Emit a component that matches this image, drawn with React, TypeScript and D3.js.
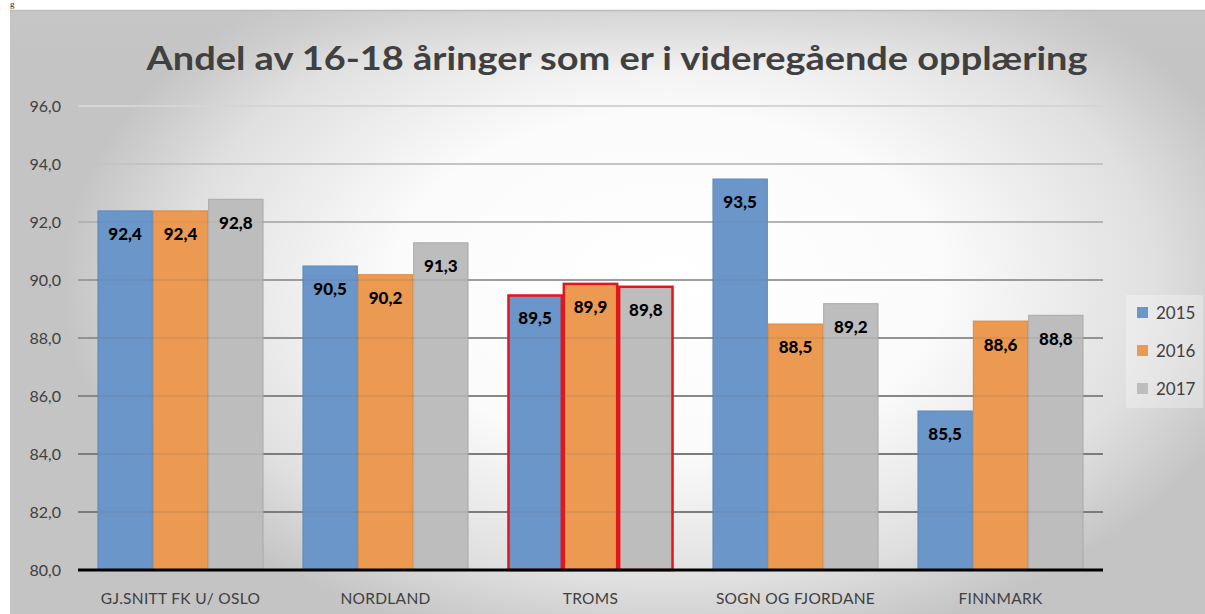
import React from "react";
import * as d3 from "d3";

const categories = ["GJ.SNITT FK U/ OSLO", "NORDLAND", "TROMS", "SOGN OG FJORDANE", "FINNMARK"];
const seriesNames = ["2015", "2016", "2017"];
const values2015 = [92.4, 90.5, 89.5, 93.5, 85.5];
const values2016 = [92.4, 90.2, 89.9, 88.5, 88.6];
const values2017 = [92.8, 91.3, 89.8, 89.2, 88.8];
const yTicks = [80, 82, 84, 86, 88, 90, 92, 94, 96];
const highlighted = ["TROMS"];
const title = "Andel av 16-18 åringer som er i videregående opplæring";

const colors = ["#6b96c9", "#ec9a52", "#bdbdbd"];
const strokes = ["#5d87ba", "#d98a44", "#a9a9a9"];

const W = 1205, H = 614;
const plotL = 78, plotR = 1103, plotT = 106, plotB = 570;
const font = "Lato, 'Open Sans', sans-serif";

export default function App() {
  const series = [values2015, values2016, values2017];
  const x0 = d3.scaleBand<string>().domain(categories).range([plotL, plotR]).paddingInner(0.19).paddingOuter(0.095);
  const x1 = d3.scaleBand<string>().domain(seriesNames).range([0, x0.bandwidth()]).padding(0);
  const y = d3.scaleLinear().domain([80, 96]).range([plotB, plotT]);
  const gridColor = d3.scaleLinear<string>().domain([96, 90, 84]).range(["#dcdcdc", "#a6a6a6", "#808080"]).clamp(true);
  const fmt = (v: number) => d3.format(".1f")(v).replace(".", ",");

  return (
    <svg width={W} height={H} style={{ position: "absolute", left: 0, top: 0, display: "block" }} fontFamily={font}>
      <defs>
        <radialGradient id="bg" cx="0.55" cy="0.45" r="0.62" gradientTransform="translate(0.1,0) scale(0.82,1)">
          <stop offset="0" stopColor="#ffffff" />
          <stop offset="0.45" stopColor="#fbfbfb" />
          <stop offset="0.8" stopColor="#e0e0e0" />
          <stop offset="1" stopColor="#c4c4c4" />
        </radialGradient>
        <linearGradient id="topfade" x1="0" y1="0" x2="0" y2="1">
          <stop offset="0" stopColor="#c8c8c8" stopOpacity="0.55" />
          <stop offset="1" stopColor="#c8c8c8" stopOpacity="0" />
        </linearGradient>
      </defs>
      <rect x={0} y={0} width={W} height={H} fill="#ffffff" />
      <text x={10} y={7} fontFamily="'Liberation Serif', serif" fontSize={9} fill="#222">g</text>
      <rect x={10} y={10} width={W - 10} height={H - 10} fill="url(#bg)" />
      <rect x={10} y={10} width={W - 10} height={60} fill="url(#topfade)" />
      <line x1={10} x2={W} y1={10.5} y2={10.5} stroke="#bdbdbd" strokeWidth={1.5} />

      <text x={617} y={70} textAnchor="middle" fontSize={33} fontWeight="bold" fill="#404040"
        textLength={941} lengthAdjust="spacingAndGlyphs">{title}</text>

      {yTicks.map((t) => (
        <g key={t}>
          {t > 80 && <line x1={plotL} x2={plotR} y1={y(t)} y2={y(t)} stroke={gridColor(t)} strokeWidth={2} />}
          <text x={61} y={y(t)} dy="0.35em" textAnchor="end" fontSize={16} fill="#404040">{fmt(t)}</text>
        </g>
      ))}

      {categories.map((c, i) => (
        <g key={c} transform={`translate(${x0(c)},0)`}>
          {series.map((vals, s) => {
            const hl = highlighted.includes(c);
            const bx = x1(seriesNames[s])!;
            return (
              <rect key={s} x={bx + (hl ? 1 : 0.5)} y={y(vals[i]) + (hl ? 1 : 0.5)}
                width={x1.bandwidth() - (hl ? 2 : 1)} height={y(80) - y(vals[i]) - (hl ? 1 : 0.5)}
                fill={colors[s]} stroke={hl ? "#e3161c" : strokes[s]} strokeWidth={hl ? 2.5 : 1} />
            );
          })}
        </g>
      ))}

      {yTicks.filter((t) => t > 80).map((t) => (
        <line key={"o" + t} x1={plotL} x2={plotR} y1={y(t)} y2={y(t)} stroke="#666" strokeOpacity={t <= 90 ? 0.12 : 0.05} strokeWidth={2} />
      ))}

      {categories.map((c, i) => (
        <g key={"l" + c} transform={`translate(${x0(c)},0)`}>
          {series.map((vals, s) => (
            <text key={s} x={x1(seriesNames[s])! + x1.bandwidth() / 2} y={y(vals[i]) + 24} dy="0.35em"
              textAnchor="middle" fontSize={17} fontWeight={900} fill="#000">{fmt(vals[i])}</text>
          ))}
        </g>
      ))}

      <line x1={plotL} x2={plotR} y1={plotB} y2={plotB} stroke="#000" strokeWidth={3} />

      {categories.map((c) => (
        <text key={"x" + c} x={x0(c)! + x0.bandwidth() / 2} y={599} dy="0.35em" textAnchor="middle"
          fontSize={15.5} fill="#404040" letterSpacing={0.3}>{c}</text>
      ))}

      <rect x={1126} y={295} width={77} height={113} fill="#ffffff" fillOpacity={0.3} />
      {seriesNames.map((n, s) => (
        <g key={n} transform={`translate(1137,${313 + s * 38})`}>
          <rect x={0} y={-6} width={11} height={11} fill={colors[s]} />
          <text x={19} y={0} dy="0.35em" fontSize={17} fill="#404040">{n}</text>
        </g>
      ))}
    </svg>
  );
}
